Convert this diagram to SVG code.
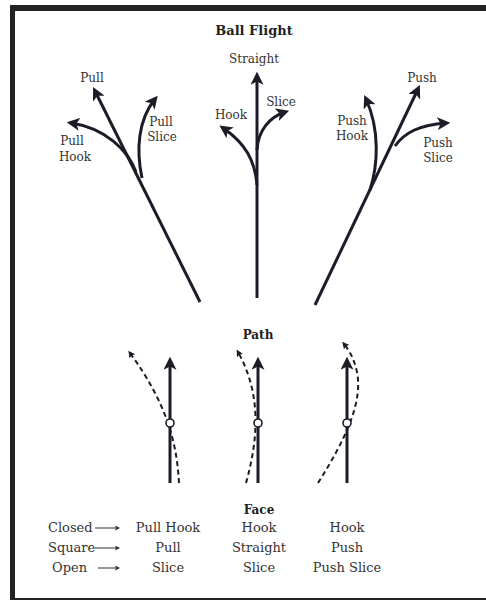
<svg xmlns="http://www.w3.org/2000/svg" width="486" height="600" viewBox="0 0 486 600">
<defs>
<style>
.t{font-family:"DejaVu Serif","Liberation Serif",serif;font-size:12px;fill:#333;text-anchor:middle}
.f{font-size:13px}
.b{font-weight:bold;fill:#222}
.l{text-anchor:start}
.m{fill:none;stroke:#1c1c28;stroke-width:3}
.d{fill:none;stroke:#1c1c28;stroke-width:2;stroke-dasharray:5 3.5}
.s{fill:none;stroke:#333;stroke-width:1}
</style>
<marker id="ah" viewBox="0 0 12 12" refX="8" refY="6" markerWidth="13" markerHeight="13" markerUnits="userSpaceOnUse" orient="auto">
<path d="M0,0 L12,6 L0,12 L3,6 z" fill="#1c1c28"/>
</marker>
<marker id="sa" viewBox="0 0 10 10" refX="6" refY="5" markerWidth="7" markerHeight="7" markerUnits="userSpaceOnUse" orient="auto">
<path d="M0,0 L10,5 L0,10 L2,5 z" fill="#1c1c28"/>
</marker>
<marker id="ta" viewBox="0 0 10 10" refX="8" refY="5" markerWidth="5" markerHeight="5" markerUnits="userSpaceOnUse" orient="auto">
<path d="M0,0 L10,5 L0,10 L2,5 z" fill="#333"/>
</marker>
</defs>
<rect width="486" height="600" fill="#fff"/>
<g id="frame" fill="#222">
<rect x="10" y="5" width="5" height="595"/>
<rect x="10" y="5" width="476" height="6"/>
<rect x="10" y="598" width="476" height="2"/>
</g>
<g id="connectors">
<path class="m" d="M200,302 L95,91" marker-end="url(#ah)"/>
<path class="m" d="M136,172 C128,150 105,128 71,123" marker-end="url(#ah)"/>
<path class="m" d="M142,178 C136,150 138,120 155,99" marker-end="url(#ah)"/>
<path class="m" d="M257,298 L257,76" marker-end="url(#ah)"/>
<path class="m" d="M257,185 C255,160 245,143 223,128" marker-end="url(#ah)"/>
<path class="m" d="M257,150 C258,130 270,117 285,112" marker-end="url(#ah)"/>
<path class="m" d="M315,305 L418,89" marker-end="url(#ah)"/>
<path class="m" d="M370,190 C378,165 380,130 366,99" marker-end="url(#ah)"/>
<path class="m" d="M395,146 C405,132 420,125 446,123" marker-end="url(#ah)"/>
<path class="m" d="M170,483 L170,361" marker-end="url(#ah)"/>
<path class="m" d="M258,483 L258,361" marker-end="url(#ah)"/>
<path class="m" d="M347,483 L347,361" marker-end="url(#ah)"/>
<path class="d" d="M179,483 C177,445 168,405 130,353" marker-end="url(#sa)"/>
<path class="d" d="M246,483 C258,440 262,395 238,352" marker-end="url(#sa)"/>
<path class="d" d="M318,483 C345,440 365,400 356,368 C353,357 349,350 344,344" marker-end="url(#sa)"/>
<path class="s" d="M95,528 L119,528" marker-end="url(#ta)"/>
<path class="s" d="M95,548 L119,548" marker-end="url(#ta)"/>
<path class="s" d="M98,568 L119,568" marker-end="url(#ta)"/>
</g>
<g id="impact" fill="#fff" stroke="#1c1c28" stroke-width="1.6">
<circle cx="170" cy="423" r="4"/>
<circle cx="258" cy="423" r="4"/>
<circle cx="347" cy="423" r="4"/>
</g>
<g id="title"><text class="t b f" x="254" y="35">Ball Flight</text></g>
<g id="pull"><text class="t" x="92" y="82">Pull</text></g>
<g id="pull-hook"><text class="t" x="72" y="145">Pull</text><text class="t" x="75" y="161">Hook</text></g>
<g id="pull-slice"><text class="t" x="161" y="126">Pull</text><text class="t" x="162" y="141">Slice</text></g>
<g id="straight"><text class="t" x="254" y="63">Straight</text></g>
<g id="hook"><text class="t" x="231" y="119">Hook</text></g>
<g id="slice"><text class="t" x="281" y="106">Slice</text></g>
<g id="push"><text class="t" x="422" y="82">Push</text></g>
<g id="push-hook"><text class="t" x="352" y="125">Push</text><text class="t" x="352" y="140">Hook</text></g>
<g id="push-slice"><text class="t" x="438" y="147">Push</text><text class="t" x="438" y="162">Slice</text></g>
<g id="path-label"><text class="t b" x="258" y="339">Path</text></g>
<g id="face-label"><text class="t b" x="259" y="514">Face</text></g>
<g id="face-table">
<text class="t f l" x="48" y="532">Closed</text>
<text class="t f l" x="48" y="552">Square</text>
<text class="t f l" x="52" y="572">Open</text>
<text class="t f" x="168" y="532">Pull Hook</text>
<text class="t f" x="168" y="552">Pull</text>
<text class="t f" x="168" y="572">Slice</text>
<text class="t f" x="259" y="532">Hook</text>
<text class="t f" x="259" y="552">Straight</text>
<text class="t f" x="259" y="572">Slice</text>
<text class="t f" x="347" y="532">Hook</text>
<text class="t f" x="347" y="552">Push</text>
<text class="t f" x="347" y="572">Push Slice</text>
</g>
</svg>
